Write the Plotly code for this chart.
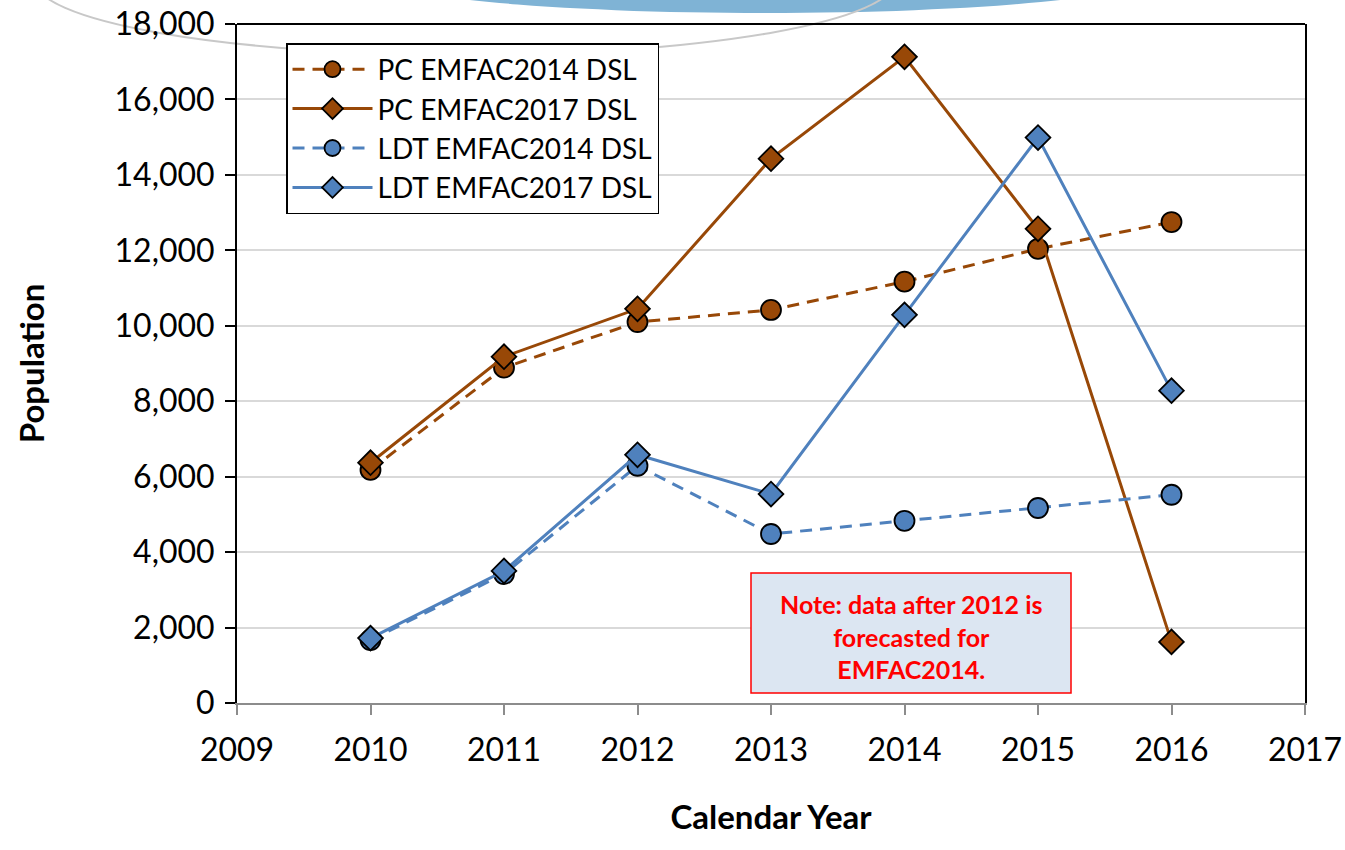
import plotly.graph_objects as go

years = [2010, 2011, 2012, 2013, 2014, 2015, 2016]
pc_2014 = [6180, 8890, 10100, 10420, 11170, 12040, 12750]
pc_2017 = [6370, 9180, 10450, 14430, 17130, 12570, 1620]
ldt_2014 = [1670, 3420, 6290, 4480, 4830, 5170, 5520]
ldt_2017 = [1720, 3500, 6580, 5540, 10290, 14990, 8280]

BROWN = "#984807"
BLUE = "#4F81BD"
FONT = "Lato, Noto Sans, sans-serif"

W, H = 1345, 850
# plot area in page coords: left 237, top 24, right 1305, bottom 703
L, T, R, B = 237, 24, W - 1305, H - 703
PW, PH = W - L - R, H - T - B

def px(x):  # page x -> paper
    return (x - L) / PW

def py(y):  # page y -> paper
    return (H - B - y) / PH

fig = go.Figure()

series = [
    ("PC EMFAC2014 DSL", pc_2014, BROWN, "12px,8px", "circle"),
    ("PC EMFAC2017 DSL", pc_2017, BROWN, "solid", "diamond"),
    ("LDT EMFAC2014 DSL", ldt_2014, BLUE, "12px,8px", "circle"),
    ("LDT EMFAC2017 DSL", ldt_2017, BLUE, "solid", "diamond"),
]
for name, vals, col, dash, sym in series:
    fig.add_trace(go.Scatter(
        x=years, y=vals, name=name, mode="lines+markers",
        line=dict(color=col, width=3, dash=dash),
        marker=dict(symbol=sym, size=20 if sym == "circle" else 19, color=col,
                    line=dict(color="black", width=1.8)),
    ))

shapes = [
    dict(type="circle", xref="paper", yref="paper", layer="below",
         x0=px(375), x1=px(1155), y0=py(13), y1=py(-62),
         fillcolor="#7FB3D5", line=dict(width=0)),
    dict(type="circle", xref="paper", yref="paper", layer="below",
         x0=px(35), x1=px(895), y0=py(55), y1=py(-94),
         fillcolor="rgba(0,0,0,0)", line=dict(color="#C8C8C8", width=2)),
    dict(type="line", xref="paper", yref="paper", x0=0, x1=1, y0=1, y1=1,
         line=dict(color="black", width=2)),
    dict(type="rect", xref="paper", yref="paper",
         x0=px(751), x1=px(1071), y0=py(693), y1=py(573),
         fillcolor="#DCE6F2", line=dict(color="#FF0000", width=1.5)),
]

fig.update_layout(
    width=W, height=H,
    margin=dict(l=L, r=R, t=T, b=B, autoexpand=False),
    paper_bgcolor="white", plot_bgcolor="rgba(0,0,0,0)",
    font=dict(family=FONT, size=26, color="black"),
    showlegend=True,
    legend=dict(x=px(286), y=py(43), xanchor="left", yanchor="top",
                bgcolor="white", bordercolor="black", borderwidth=1.5,
                font=dict(size=28, family=FONT), itemwidth=80,
                tracegroupgap=0),
    shapes=shapes,
    annotations=[
        dict(xref="paper", yref="paper", x=px(911), y=py(636),
             xanchor="center", yanchor="middle",
             text="<b>Note: data after 2012 is<br>forecasted for<br>EMFAC2014.</b>",
             showarrow=False, align="center",
             font=dict(color="#FF0000", size=25, family=FONT)),
    ],
)

fig.update_xaxes(
    range=[2009, 2017], dtick=1, tick0=2009,
    showgrid=False, zeroline=False,
    showline=True, linecolor="#8C8C8C", linewidth=2,
    ticks="outside", ticklen=10, tickwidth=2, tickcolor="#8C8C8C",
    tickfont=dict(size=32), ticklabelstandoff=8,
    ticklabeloverflow="allow",
    title=dict(text="<b>Calendar Year</b>", font=dict(size=33), standoff=38),
)
fig.update_yaxes(
    range=[0, 18000], dtick=2000, tickformat=",d",
    showgrid=True, gridcolor="#D9D9D9", gridwidth=1.5, zeroline=False,
    showline=True, linecolor="black", linewidth=2, mirror=True,
    ticks="outside", ticklen=10, tickwidth=2, tickcolor="black",
    tickfont=dict(size=32), ticklabelstandoff=4,
    ticklabeloverflow="allow",
    title=dict(text="<b>Population</b>", font=dict(size=33), standoff=60),
)

fig.write_html("out.html",
               config={"displayModeBar": False},
               post_script="document.body.style.margin='0';document.body.style.overflow='hidden';")
